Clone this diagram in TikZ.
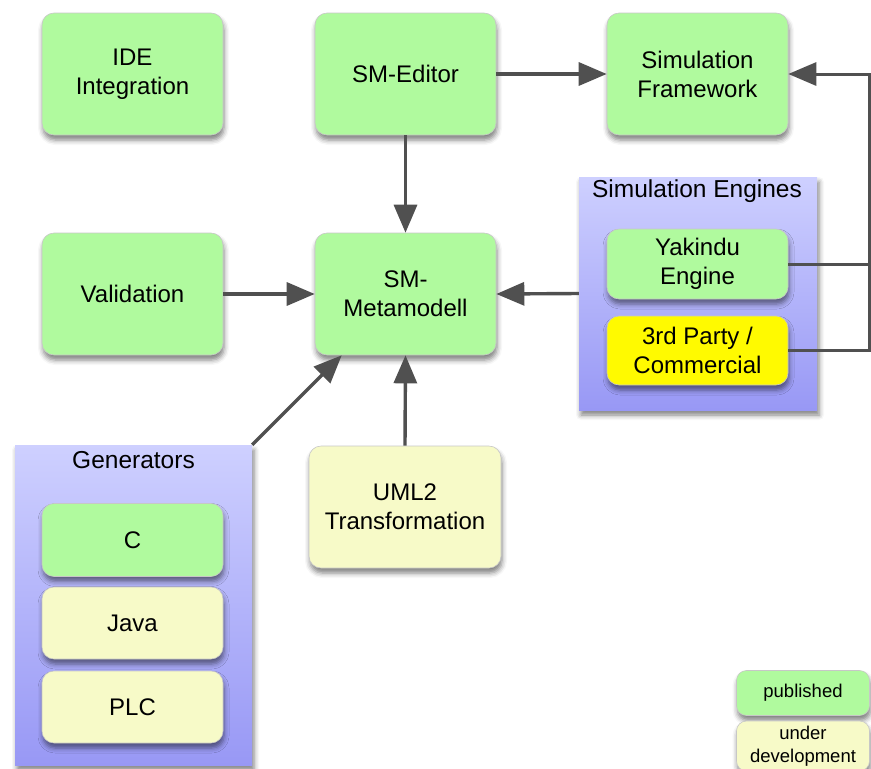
\documentclass[tikz,border=0pt]{standalone}
\usepackage{fontspec}
\setmainfont{Liberation Sans}
\usetikzlibrary{arrows.meta,shadows.blur,calc}
\definecolor{pubgreen}{RGB}{176,250,158}
\definecolor{devyellow}{RGB}{247,250,200}
\definecolor{brightyellow}{RGB}{255,250,0}
\definecolor{grouptop}{RGB}{206,208,255}
\definecolor{groupbot}{RGB}{152,152,245}
\definecolor{linegray}{RGB}{80,80,80}
\begin{document}
\begin{tikzpicture}[x=1pt,y=-1pt,
  box/.style={draw=black!22, line width=0.6pt, rounded corners=12pt, align=center,
    inner sep=0pt, font=\fontsize{24}{29}\selectfont,
    blur shadow={shadow xshift=1pt, shadow yshift=-5pt, shadow blur radius=5pt, shadow opacity=50}},
  pub/.style={box, fill=pubgreen},
  dev/.style={box, fill=devyellow},
  third/.style={box, fill=brightyellow},
  group/.style={inner sep=0pt, top color=grouptop, bottom color=groupbot, draw=none,
    blur shadow={shadow xshift=2pt, shadow yshift=-5pt, shadow blur radius=5pt, shadow opacity=50}},
  grouplabel/.style={font=\fontsize{24.5}{29}\selectfont, inner sep=0pt},
  legendtext/.style={rounded corners=10pt, font=\fontsize{18.5}{23}\selectfont},
  conn/.style={draw=linegray, line width=3.4pt},
  arr/.style={conn, -{Triangle[length=28pt, width=23pt]}},
]
\useasboundingbox (0,0) rectangle (871,769);

% groups
\node[group, minimum width=238pt, minimum height=233pt] (eng) at (698,293.5) {};
\node[grouplabel] (englabel) at (697,191) {Simulation Engines};
\node[group, minimum width=237pt, minimum height=320pt] (gen) at (133.5,605) {};
\node[grouplabel] (genlabel) at (133.5,460) {Generators};

% top row
\node[pub, minimum width=181pt, minimum height=122pt] (ide) at (132.5,74) {IDE\\Integration};
\node[pub, minimum width=181pt, minimum height=122pt] (edit) at (405.5,74) {SM-Editor};
\node[pub, minimum width=181pt, minimum height=122pt] (sim) at (697.5,74) {Simulation\\Framework};

% middle row
\node[pub, minimum width=181pt, minimum height=122pt] (val) at (132.5,294) {Validation};
\node[pub, minimum width=181pt, minimum height=122pt] (meta) at (405.5,294) {SM-\\Metamodell};

% engines
\node[pub, minimum width=181pt, minimum height=70pt] (yak) at (697.5,264) {Yakindu\\Engine};
\node[third, minimum width=181pt, minimum height=69pt] (party) at (697.5,350.5) {3rd Party /\\Commercial};

% generators
\node[pub, minimum width=181pt, minimum height=73pt] (c) at (132.5,540) {C};
\node[dev, minimum width=181pt, minimum height=72pt] (java) at (132.5,623) {Java};
\node[dev, minimum width=181pt, minimum height=72pt] (plc) at (132.5,707) {PLC};

% UML2
\node[dev, minimum width=192pt, minimum height=122pt] (uml) at (405,507) {UML2\\Transformation};

% legend
\node[pub, legendtext, minimum width=133pt, minimum height=45pt] (lpub) at (803,693) {published};
\node[dev, legendtext, minimum width=133pt, minimum height=50pt] (ldev) at (803,746) {under\\development};

% connectors
\coordinate (rx) at (869,0);
\draw[arr] (edit.east) -- (sim.west);
\draw[arr] (edit.south) -- (meta.north);
\draw[arr] (val.east) -- (meta.west);
\draw[arr] (eng.west) -- (meta.east);
\draw[arr] (uml.north) -- (meta.south);
\draw[arr] (gen.north east) -- ([xshift=27pt]meta.south west);
\draw[conn, line width=3pt] (yak.east) -- (yak.east -| rx);
\draw[arr, line width=3pt] (party.east) -- (party.east -| rx) |- (sim.east);
\end{tikzpicture}
\end{document}
